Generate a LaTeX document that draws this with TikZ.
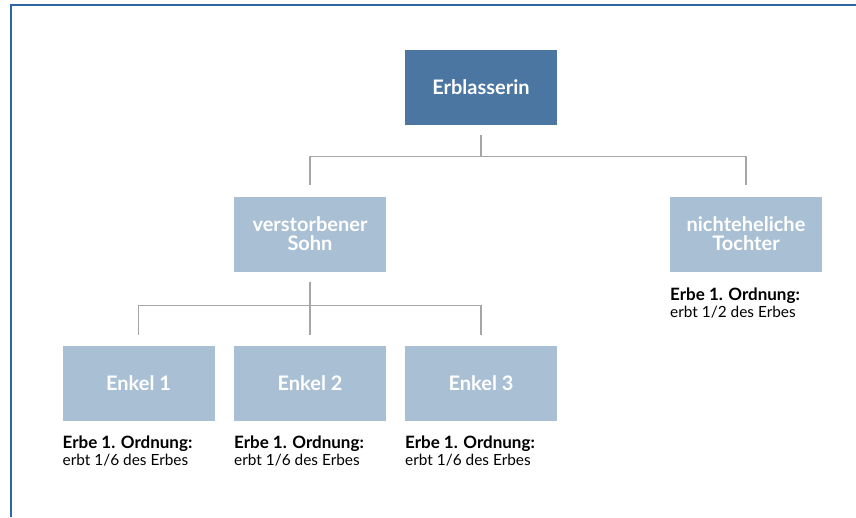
\documentclass[tikz,border=0pt]{standalone}
\usepackage{fontspec}
\setmainfont{Lato}
\definecolor{darkbox}{HTML}{4A76A1}
\definecolor{lightbox}{HTML}{A9BFD4}
\definecolor{conn}{HTML}{A6A6A6}
\definecolor{frame}{HTML}{2C67A6}
\begin{document}
\begin{tikzpicture}[x=1pt,y=1pt,
  box/.style={minimum width=152pt,minimum height=75pt,inner sep=0pt,text=white,
    font=\fontsize{20}{19}\selectfont\bfseries,align=center},
  topbox/.style={box,fill=darkbox},
  kidbox/.style={box,fill=lightbox},
  line/.style={draw=conn,line width=1.5pt},
  lab/.style={anchor=base west,inner sep=0pt,font=\fontsize{17}{17}\selectfont\bfseries},
  sub/.style={anchor=base west,inner sep=0pt,font=\fontsize{15.4}{17}\selectfont}]
\useasboundingbox (0,0) rectangle (856,-517);
\draw[frame,line width=2pt] (856,-4.5) -- (11,-4.5) -- (11,-517);
\node[topbox] (E) at (481,-87) {Erblasserin};
\node[kidbox] (S) at (310,-234) {verstorbener\\Sohn};
\node[kidbox] (T) at (746,-234) {nichteheliche\\Tochter};
\node[kidbox] (K1) at (138.5,-383.5) {Enkel 1};
\node[kidbox] (K2) at (310,-383.5) {Enkel 2};
\node[kidbox] (K3) at (481,-383.5) {Enkel 3};
\draw[line] ([yshift=-10pt]E.south) -- ++(0,-22) coordinate (j1);
\draw[line] ([yshift=11pt]S.north) |- (j1) -| ([yshift=11pt]T.north);
\draw[line] ([yshift=-10pt]S.south) -- ++(0,-24) coordinate (j2);
\draw[line] ([yshift=11pt]K1.north) |- (j2) -| ([yshift=11pt]K3.north);
\draw[line] (j2) -- ([yshift=11pt]K2.north);
\node[lab] (l1) at (62.5,-448) {Erbe 1. Ordnung:};
\node[sub] (s1) at (62.5,-465.5) {erbt 1/6 des Erbes};
\node[lab] (l2) at (234,-448) {Erbe 1. Ordnung:};
\node[sub] (s2) at (234,-465.5) {erbt 1/6 des Erbes};
\node[lab] (l3) at (405,-448) {Erbe 1. Ordnung:};
\node[sub] (s3) at (405,-465.5) {erbt 1/6 des Erbes};
\node[lab] (l4) at (670,-300) {Erbe 1. Ordnung:};
\node[sub] (s4) at (670,-317) {erbt 1/2 des Erbes};
\end{tikzpicture}
\end{document}
